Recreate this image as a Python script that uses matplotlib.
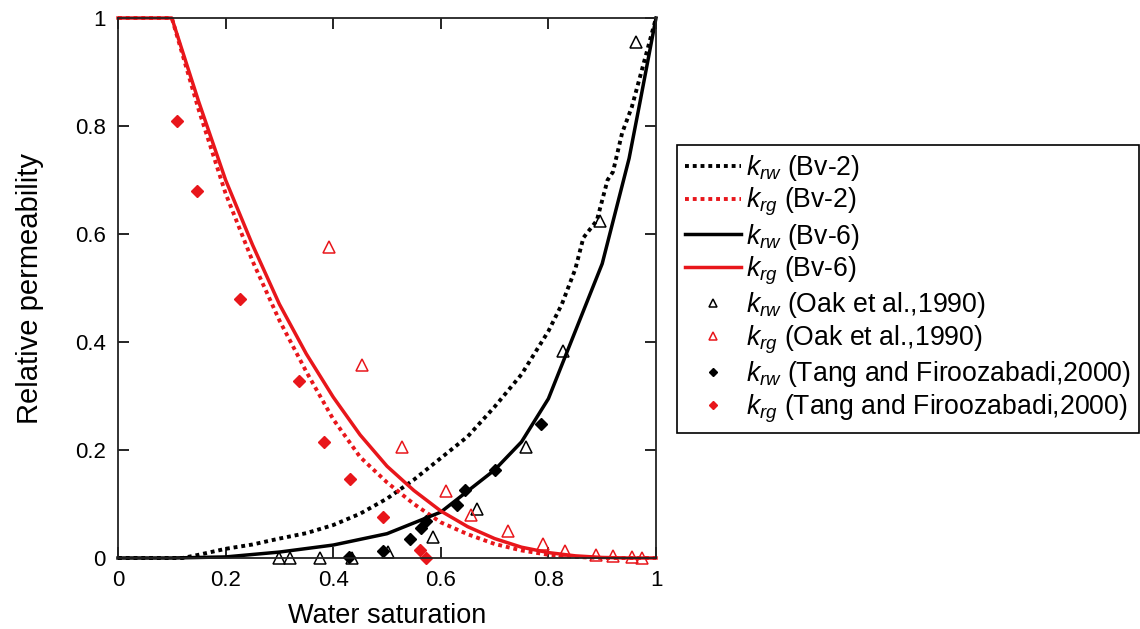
import numpy as np
import matplotlib
matplotlib.use("Agg")
import matplotlib.pyplot as plt

plt.rcParams['font.family'] = ['Liberation Sans', 'DejaVu Sans']
plt.rcParams['mathtext.fontset'] = 'custom'
plt.rcParams['mathtext.it'] = 'Liberation Sans:italic'
plt.rcParams['mathtext.rm'] = 'Liberation Sans'

# model curves
sw_krg = [0.0, 0.1, 0.15, 0.2, 0.25, 0.3, 0.35, 0.4, 0.45, 0.5, 0.55, 0.6, 0.65, 0.7, 0.75, 0.8, 0.85, 0.9, 0.95, 1.0]
krg_bv2 = [1.0, 1.0, 0.83, 0.675, 0.55, 0.44, 0.345, 0.257, 0.187, 0.14, 0.10, 0.066, 0.044, 0.026, 0.014, 0.006, 0.002, 0.0, 0.0, 0.0]
krg_bv6 = [1.0, 1.0, 0.845, 0.70, 0.58, 0.47, 0.378, 0.298, 0.228, 0.17, 0.125, 0.087, 0.058, 0.036, 0.02, 0.01, 0.004, 0.001, 0.0, 0.0]

sw_krw2 = [0.0, 0.12, 0.15, 0.2, 0.25, 0.3, 0.35, 0.4, 0.45, 0.5, 0.55, 0.6, 0.65, 0.7, 0.75, 0.8, 0.825, 0.85, 0.865, 0.89, 0.91, 0.92, 0.937, 0.955, 0.97, 1.0]
krw_bv2 = [0.0, 0.0, 0.006, 0.017, 0.025, 0.036, 0.046, 0.061, 0.082, 0.11, 0.145, 0.185, 0.225, 0.28, 0.34, 0.42, 0.47, 0.535, 0.593, 0.625, 0.70, 0.715, 0.787, 0.835, 0.89, 1.0]

sw_krw6 = [0.0, 0.1, 0.2, 0.3, 0.4, 0.5, 0.6, 0.7, 0.75, 0.8, 0.85, 0.9, 0.95, 0.97, 1.0]
krw_bv6 = [0.0, 0.0, 0.002, 0.011, 0.024, 0.045, 0.085, 0.163, 0.215, 0.295, 0.42, 0.545, 0.74, 0.843, 1.0]

# experimental data
oak_sw_krw = [0.30, 0.32, 0.375, 0.435, 0.502, 0.586, 0.667, 0.758, 0.828, 0.896, 0.963]
oak_krw = [0.0, 0.0, 0.0, 0.0, 0.012, 0.038, 0.09, 0.206, 0.383, 0.624, 0.956]
oak_sw_krg = [0.392, 0.453, 0.528, 0.609, 0.656, 0.725, 0.79, 0.831, 0.888, 0.92, 0.955, 0.974]
oak_krg = [0.576, 0.357, 0.206, 0.124, 0.08, 0.05, 0.026, 0.013, 0.005, 0.003, 0.001, 0.0]

tang_sw_krw = [0.43, 0.493, 0.543, 0.563, 0.572, 0.63, 0.645, 0.70, 0.786]
tang_krw = [0.002, 0.013, 0.035, 0.055, 0.068, 0.098, 0.126, 0.163, 0.248]
tang_sw_krg = [0.11, 0.147, 0.227, 0.336, 0.383, 0.431, 0.493, 0.561, 0.572]
tang_krg = [0.81, 0.68, 0.48, 0.328, 0.215, 0.146, 0.076, 0.015, 0.0]

fig = plt.figure(figsize=(11.4, 6.29), dpi=100)
ax = fig.add_axes([118/1140, 1-558/629, (656-118)/1140, (558-18)/629])

red = '#e8161b'
ax.plot(sw_krw2, krw_bv2, color='black', lw=2.8, ls=(0, (1, 1)), label=r'$k_{rw}$ (Bv-2)', clip_on=False)
ax.plot(sw_krg, krg_bv2, color=red, lw=2.8, ls=(0, (1, 1)), label=r'$k_{rg}$ (Bv-2)', clip_on=False)
ax.plot(sw_krw6, krw_bv6, color='black', lw=2.5, label=r'$k_{rw}$ (Bv-6)', clip_on=False)
ax.plot(sw_krg, krg_bv6, color=red, lw=2.5, label=r'$k_{rg}$ (Bv-6)', clip_on=False)
ax.plot(oak_sw_krw, oak_krw, ls='none', marker='^', ms=8, mfc='none', mec='black', mew=1.1,
        label=r'$k_{rw}$ (Oak et al.,1990)', clip_on=False)
ax.plot(oak_sw_krg, oak_krg, ls='none', marker='^', ms=8, mfc='none', mec=red, mew=1.1,
        label=r'$k_{rg}$ (Oak et al.,1990)', clip_on=False)
ax.plot(tang_sw_krw, tang_krw, ls='none', marker='D', ms=6.5, color='black',
        label=r'$k_{rw}$ (Tang and Firoozabadi,2000)', clip_on=False)
ax.plot(tang_sw_krg, tang_krg, ls='none', marker='D', ms=6.5, color=red,
        label=r'$k_{rg}$ (Tang and Firoozabadi,2000)', clip_on=False)

ax.set_xlim(0, 1)
ax.set_ylim(0, 1)
ax.set_xticks([0, 0.2, 0.4, 0.6, 0.8, 1])
ax.set_xticklabels(['0', '0.2', '0.4', '0.6', '0.8', '1'])
ax.set_yticks([0, 0.2, 0.4, 0.6, 0.8, 1])
ax.set_yticklabels(['0', '0.2', '0.4', '0.6', '0.8', '1'])
ax.tick_params(direction='in', length=8, width=1.2, top=True, right=True, labelsize=16, pad=9)
for s in ax.spines.values():
    s.set_linewidth(1.3)
    s.set_color('#222222')
ax.set_xlabel('Water saturation', fontsize=19.5, labelpad=8)
ax.set_ylabel('Relative permeability', fontsize=21, labelpad=22)

leg = fig.legend(loc='upper left', bbox_to_anchor=(677/1140, 1-145/629), fontsize=19.2,
                 frameon=True, fancybox=False, edgecolor='black', framealpha=1,
                 handlelength=2.1, handletextpad=0.2, labelspacing=0.12, markerscale=0.65,
                 borderpad=0.3, borderaxespad=0)
leg.get_frame().set_linewidth(1.2)

fig.savefig('out.png', dpi=100)
